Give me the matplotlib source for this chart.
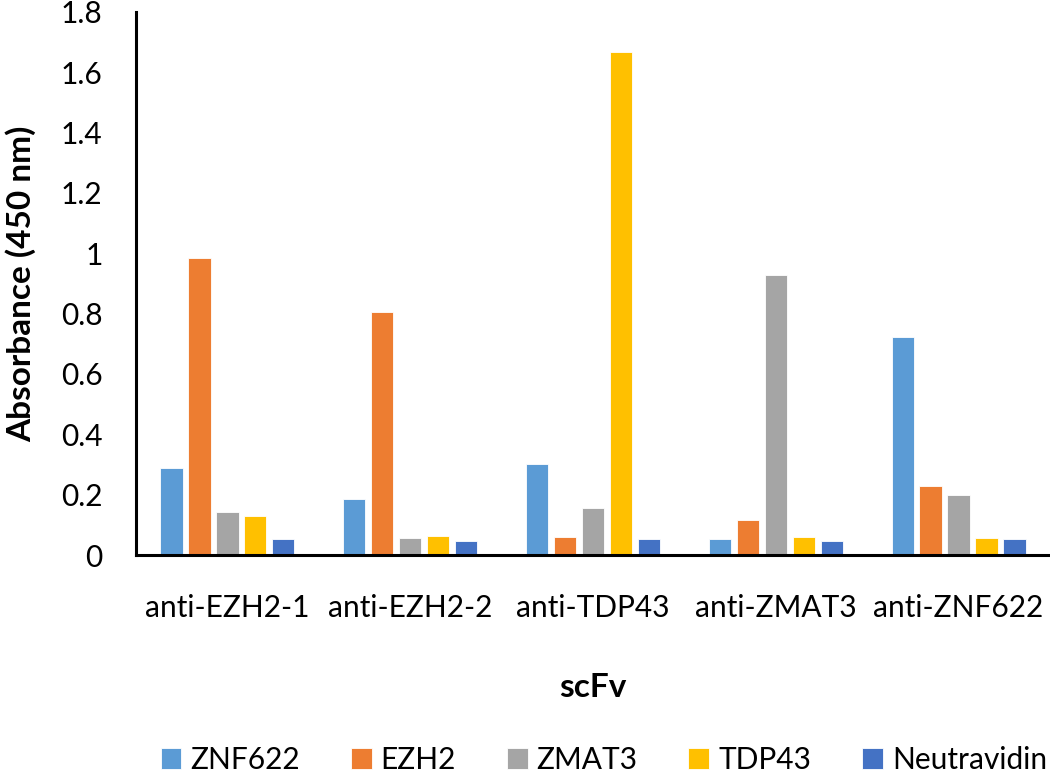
import numpy as np
import matplotlib.pyplot as plt

plt.rcParams['font.family'] = ['Lato', 'DejaVu Sans']

# scFv clones on the x axis
groups = ['anti-EZH2-1', 'anti-EZH2-2', 'anti-TDP43', 'anti-ZMAT3', 'anti-ZNF622']

# absorbance per antigen (one value per scFv)
znf622 = [0.287, 0.187, 0.300, 0.053, 0.721]
ezh2 = [0.985, 0.807, 0.060, 0.117, 0.230]
zmat3 = [0.141, 0.057, 0.155, 0.928, 0.200]
tdp43 = [0.130, 0.063, 1.667, 0.061, 0.057]
neutravidin = [0.053, 0.048, 0.052, 0.047, 0.053]

series = [('ZNF622', znf622, '#5b9bd5'),
          ('EZH2', ezh2, '#ed7d31'),
          ('ZMAT3', zmat3, '#a5a5a5'),
          ('TDP43', tdp43, '#ffc000'),
          ('Neutravidin', neutravidin, '#4472c4')]

fig = plt.figure(figsize=(10.5, 7.77), dpi=100)
ax = fig.add_axes([0.1295, 0.2857, 0.8705, 0.699])

x = np.arange(len(groups))
step = 0.153
width = 0.122
for i, (name, vals, col) in enumerate(series):
    ax.bar(x + (i - 2) * step, vals, width, color=col, label=name,
           edgecolor='white', linewidth=0.6)

ax.set_xlim(-0.5, 4.5)
ax.set_ylim(0, 1.8)
ax.set_yticks(np.arange(0, 1.81, 0.2))
ax.set_yticklabels(['0', '0.2', '0.4', '0.6', '0.8', '1', '1.2', '1.4', '1.6', '1.8'])
ax.set_xticks(x)
ax.set_xticklabels(groups)
ax.tick_params(axis='both', length=0, labelsize=21.5)
ax.tick_params(axis='x', pad=28)
ax.tick_params(axis='y', pad=24)

for s in ['top', 'right']:
    ax.spines[s].set_visible(False)
for s in ['left', 'bottom']:
    ax.spines[s].set_linewidth(2.2)
    ax.spines[s].set_color('black')

ax.set_ylabel('Absorbance (450 nm)', fontsize=24, fontweight='bold', labelpad=18)
ax.set_xlabel('scFv', fontsize=24, fontweight='bold', labelpad=37)

# legend sits centred under the plot area, not the whole figure
fig.legend(loc='center', bbox_to_anchor=(0.575, 0.022), ncol=5, frameon=False,
           fontsize=21.5, handlelength=0.7, handleheight=0.7, handletextpad=0.3,
           columnspacing=1.7)

fig.savefig('out.png', dpi=100)
